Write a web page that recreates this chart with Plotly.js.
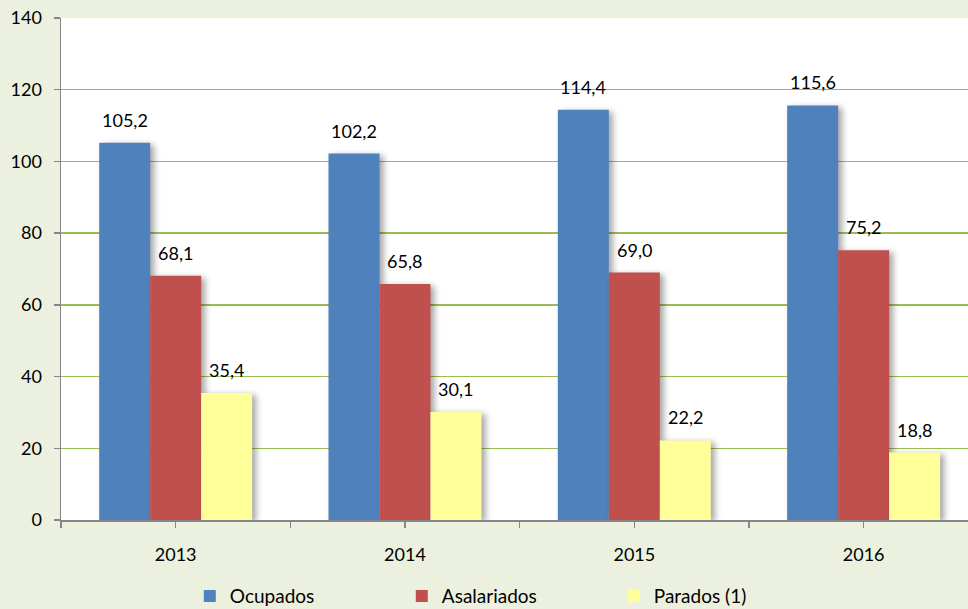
<!DOCTYPE html>
<html>
<head>
<meta charset="utf-8">
<script src="https://cdn.plot.ly/plotly-3.0.1.min.js"></script>
<style>
html,body{margin:0;padding:0;background:#ebf1de;}
#chart{width:968px;height:609px;}
.barlayer .point path{filter:drop-shadow(4px 2px 3px rgba(0,0,0,0.35));}
</style>
</head>
<body>
<div id="chart"></div>
<script>
const years = [2013, 2014, 2015, 2016];
const seriesNames = ['Ocupados', 'Asalariados', 'Parados (1)'];
const ocupados = [105.2, 102.2, 114.4, 115.6];
const asalariados = [68.1, 65.8, 69.0, 75.2];
const parados = [35.4, 30.1, 22.2, 18.8];
const yTicks = [0, 20, 40, 60, 80, 100, 120, 140];

const colors = ['#4f81bd', '#c0504d', '#ffff99'];
const allValues = [ocupados, asalariados, parados];
const bargap = 0.333;
const nSeries = allValues.length;
const barW = (1 - bargap) / nSeries;
const fontFam = 'Lato, "Open Sans", sans-serif';

const traces = allValues.map((vals, i) => ({
  type: 'bar',
  name: seriesNames[i],
  x: years,
  y: vals,
  marker: {color: colors[i], line: {width: 0}},
  hoverinfo: 'skip'
}));

const annotations = [];
allValues.forEach((vals, i) => {
  vals.forEach((v, j) => {
    annotations.push({
      x: years[j] + (i - (nSeries - 1) / 2) * barW,
      y: v,
      xref: 'x', yref: 'y',
      text: v.toFixed(1).replace('.', ','),
      showarrow: false,
      yanchor: 'middle',
      yshift: 23,
      font: {family: fontFam, size: 18, color: '#000'}
    });
  });
});

const layout = {
  width: 968, height: 609,
  margin: {l: 61, r: 0, t: 18, b: 89, autoexpand: false},
  paper_bgcolor: '#ebf1de',
  plot_bgcolor: '#ffffff',
  barmode: 'group',
  bargap: bargap,
  bargroupgap: 0,
  separators: ',.',
  font: {family: fontFam, size: 18, color: '#000'},
  showlegend: true,
  legend: {
    orientation: 'h',
    x: 0.142, xanchor: 'left',
    y: -0.114, yanchor: 'top',
    bgcolor: 'rgba(0,0,0,0)',
    font: {family: fontFam, size: 19, color: '#000'},
    entrywidth: 167,
    entrywidthmode: 'pixels',
    traceorder: 'normal'
  },
  xaxis: {
    type: 'linear',
    range: [2012.5, 2016.455],
    tickmode: 'array',
    tickvals: years,
    ticktext: years.map(String),
    ticks: 'outside',
    ticklen: 6,
    tickwidth: 1.5,
    tickcolor: '#868686',
    ticklabelstandoff: 12,
    tickfont: {family: fontFam, size: 18, color: '#000'},
    minor: {tickmode: 'linear', tick0: 2012.5, dtick: 1, ticks: 'outside', ticklen: 6, tickwidth: 1.5, tickcolor: '#868686', showgrid: false},
    showline: true,
    linecolor: '#868686',
    linewidth: 1.5,
    showgrid: false,
    zeroline: false,
    fixedrange: true
  },
  yaxis: {
    range: [0, 140],
    tickmode: 'array',
    tickvals: yTicks,
    ticktext: yTicks.map(String),
    ticks: 'outside',
    ticklen: 6,
    tickwidth: 1.5,
    tickcolor: '#868686',
    ticklabelstandoff: 8,
    tickfont: {family: fontFam, size: 18, color: '#000'},
    showline: true,
    linecolor: '#868686',
    linewidth: 1.5,
    showgrid: true,
    gridcolor: '#9bbb59',
    gridwidth: 1.5,
    zeroline: false,
    fixedrange: true
  },
  annotations: annotations
};

Plotly.newPlot('chart', traces, layout, {displayModeBar: false, staticPlot: true});
</script>
</body>
</html>
